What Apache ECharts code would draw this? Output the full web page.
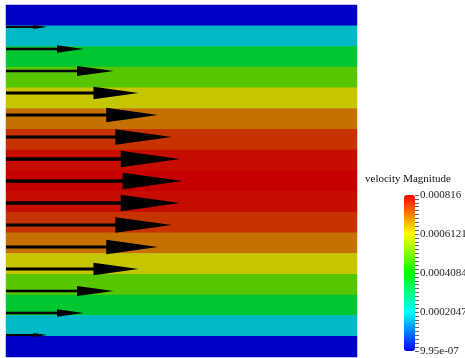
<!DOCTYPE html>
<html>
<head>
<meta charset="utf-8">
<style>
  html, body { margin: 0; padding: 0; background: #ffffff; }
  #chart { width: 465px; height: 358px; }
</style>
<script src="https://cdn.jsdelivr.net/npm/echarts@6/dist/echarts.min.js"></script>
</head>
<body>
<div id="chart"></div>
<script>
// ---- data ----
// velocity magnitude of the 17 horizontal cell rows (top to bottom)
var bandValues = [9.95e-07, 0.000191, 0.000357, 0.000497, 0.000612, 0.000701, 0.000765, 0.000803, 0.000816,
                  0.000803, 0.000765, 0.000701, 0.000612, 0.000497, 0.000357, 0.000191, 9.95e-07];
// glyph (arrow) positions across the channel (fraction of height, top = 1) and their velocities
var arrowY = [0.9375, 0.875, 0.8125, 0.75, 0.6875, 0.625, 0.5625, 0.5, 0.4375, 0.375, 0.3125, 0.25, 0.1875, 0.125, 0.0625];
var arrowV = [0.000191, 0.000357, 0.000497, 0.000612, 0.000701, 0.000765, 0.000803, 0.000816,
              0.000803, 0.000765, 0.000701, 0.000612, 0.000497, 0.000357, 0.000191];
var glyphScale = 617; // x-domain units per unit velocity
var legendTitle = 'velocity Magnitude';
var rangeMin = 9.95e-07, rangeMax = 0.000816;
var tickLabels = ['9.95e-07', '0.0002047', '0.0004084', '0.0006121', '0.000816'];
var minorPerMajor = 10;

// ---- build ----
var rowCats = bandValues.map(function (v, i) { return String(i); });
var heatData = bandValues.map(function (v, i) { return [0, bandValues.length - 1 - i, v]; });
var arrowData = arrowY.map(function (y, i) { return [y, arrowV[i]]; });
var tickSteps = (tickLabels.length - 1) * minorPerMajor;

var serif = 'Liberation Serif';
var chart = echarts.init(document.getElementById('chart'), null, { renderer: 'canvas' });

var option = {
  animation: false,
  backgroundColor: '#ffffff',
  title: {
    text: legendTitle,
    left: 365, top: 174, padding: 0,
    textStyle: { fontFamily: serif, fontSize: 11, fontWeight: 'normal', color: '#111' }
  },
  grid: [
    { left: 6, top: 5, width: 351, height: 352, show: false, containLabel: false },
    { left: 6, top: 5, width: 351, height: 352, show: false, containLabel: false },
    { left: 415, top: 195, width: 11, height: 156, show: false, containLabel: false }
  ],
  xAxis: [
    { type: 'category', gridIndex: 0, data: ['0'], show: false },
    { type: 'value', gridIndex: 1, min: 0, max: 1, show: false },
    { type: 'value', gridIndex: 2, min: 0, max: 1, show: false }
  ],
  yAxis: [
    { type: 'category', gridIndex: 0, data: rowCats, show: false },
    { type: 'value', gridIndex: 1, min: 0, max: 1, show: false },
    {
      // colour-bar scale: one step per minor tick, labelled every minorPerMajor steps
      type: 'value', gridIndex: 2, position: 'left', min: 0, max: tickSteps, interval: 1,
      splitLine: { show: false },
      axisLine: { show: false },
      axisTick: { show: true, inside: true, length: 4,
                  lineStyle: { color: '#666', width: 1 } },
      axisLabel: {
        show: true, inside: true, margin: 5, showMinLabel: true, showMaxLabel: true,
        fontFamily: serif, fontSize: 11, color: '#222',
        formatter: function (val) {
          var r = Math.round(val);
          return (r % minorPerMajor === 0) ? tickLabels[r / minorPerMajor] : '';
        }
      }
    }
  ],
  visualMap: {
    type: 'continuous',
    seriesIndex: 0,
    min: rangeMin, max: rangeMax,
    orient: 'vertical',
    left: 404, top: 195, padding: 0,
    itemWidth: 11, itemHeight: 156,
    calculable: false, hoverLink: false,
    text: null, showLabel: false,
    textStyle: { fontSize: 0 },
    inRange: { color: ['#0000c6', '#00c6c6', '#00c600', '#c6c600', '#c60000'] },
    controller: { inRange: { color: ['#0000ff', '#00ffff', '#00ff00', '#ffff00', '#ff0000'] } }
  },
  series: [
    {
      type: 'heatmap', xAxisIndex: 0, yAxisIndex: 0,
      data: heatData,
      itemStyle: { borderWidth: 0 },
      emphasis: { disabled: true },
      silent: true
    },
    {
      type: 'custom', xAxisIndex: 1, yAxisIndex: 1,
      data: arrowData,
      silent: true,
      renderItem: function (params, api) {
        var y = api.value(0), v = api.value(1);
        var p0 = api.coord([0, y]);
        var p1 = api.coord([v * glyphScale, y]);
        var L = p1[0] - p0[0];
        var hl = 0.34 * L, hh = 0.047 * L, sw = (1.4 + 0.011 * L) / 2;
        var xb = p1[0] - hl, yc = p0[1];
        return {
          type: 'polygon',
          shape: { points: [
            [p0[0], yc - sw], [xb, yc - sw], [xb, yc - hh], [p1[0], yc],
            [xb, yc + hh], [xb, yc + sw], [p0[0], yc + sw]
          ] },
          style: { fill: '#000000', stroke: null }
        };
      }
    }
  ]
};
chart.setOption(option);
</script>
</body>
</html>
